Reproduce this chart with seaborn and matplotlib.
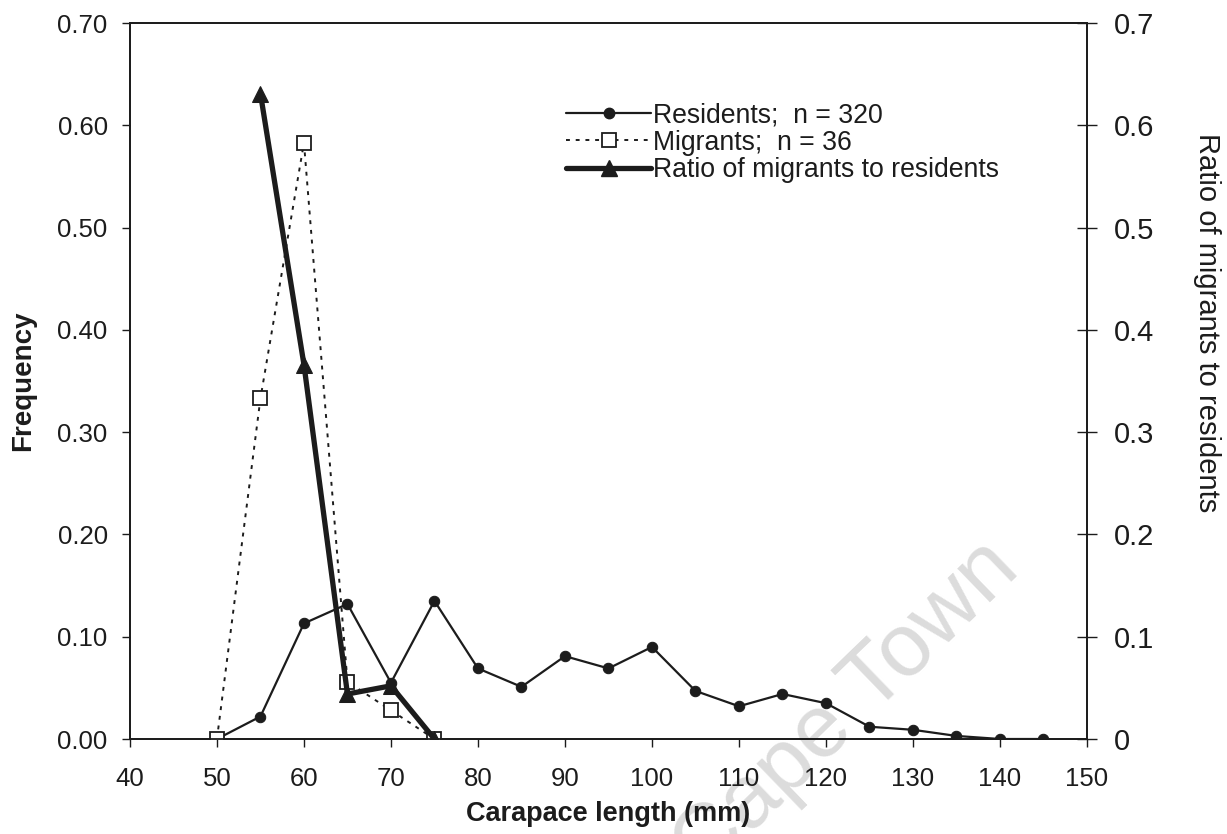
import matplotlib
matplotlib.use("Agg")
import matplotlib.pyplot as plt
import seaborn as sns
from matplotlib.lines import Line2D

# Carapace length classes (mm)
resident_lengths = [50, 55, 60, 65, 70, 75, 80, 85, 90, 95, 100,
                    105, 110, 115, 120, 125, 130, 135, 140, 145]
resident_freq = [0.000, 0.022, 0.113, 0.132, 0.055, 0.135, 0.069, 0.051, 0.081, 0.069, 0.090,
                 0.047, 0.032, 0.044, 0.035, 0.012, 0.009, 0.003, 0.000, 0.000]

migrant_lengths = [50, 55, 60, 65, 70, 75]
migrant_freq = [0.000, 0.333, 0.583, 0.056, 0.028, 0.000]

ratio_lengths = [55, 60, 65, 70, 75]
ratio_values = [0.631, 0.366, 0.044, 0.052, 0.000]

x_ticks = list(range(40, 151, 10))
left_ticks = [0.0, 0.1, 0.2, 0.3, 0.4, 0.5, 0.6, 0.7]
left_ticklabels = ["0.00", "0.10", "0.20", "0.30", "0.40", "0.50", "0.60", "0.70"]
right_ticklabels = ["0", "0.1", "0.2", "0.3", "0.4", "0.5", "0.6", "0.7"]

label_residents = "Residents;  n = 320"
label_migrants = "Migrants;  n = 36"
label_ratio = "Ratio of migrants to residents"

sns.set_style("white")
plt.rcParams["font.family"] = ["Liberation Sans", "DejaVu Sans"]

INK = "#1c1c1c"
fig = plt.figure(figsize=(12.27, 8.34), dpi=100)
ax = fig.add_axes([0.1059, 0.1139, 0.7800, 0.8585])
ax2 = ax.twinx()

# faint watermark behind the data
ax.text(1022 / 1227, 1 - 572 / 834, "University of Cape Town", transform=fig.transFigure,
        fontsize=64, color="#dcdcdc", rotation=44, rotation_mode="anchor",
        ha="right", va="baseline", zorder=0.5, clip_on=False)

sns.lineplot(x=resident_lengths, y=resident_freq, ax=ax, color=INK, linewidth=1.6,
             marker="o", markersize=7.5, markeredgecolor=INK, markerfacecolor=INK,
             zorder=3)
sns.lineplot(x=migrant_lengths, y=migrant_freq, ax=ax, color=INK, linewidth=1.4,
             linestyle=(0, (2, 3)), marker="s", markersize=10, markerfacecolor="white",
             markeredgecolor=INK, markeredgewidth=1.3, zorder=4)
sns.lineplot(x=ratio_lengths, y=ratio_values, ax=ax2, color=INK, linewidth=3.8,
             marker="^", markersize=11, markeredgecolor=INK, markerfacecolor=INK,
             zorder=5)

ax.set_xlim(40, 150)
ax.set_ylim(0, 0.7)
ax2.set_ylim(0, 0.7)
ax.set_xticks(x_ticks)
ax.set_xticklabels([str(v) for v in x_ticks])
ax.set_yticks(left_ticks)
ax.set_yticklabels(left_ticklabels)
ax2.set_yticks(left_ticks)
ax2.set_yticklabels(right_ticklabels)

for a in (ax, ax2):
    for s in a.spines.values():
        s.set_color(INK)
        s.set_linewidth(1.3)
        s.set_visible(True)

ax.tick_params(axis="x", direction="out", length=6, width=1.0, colors=INK,
               labelsize=18.5, pad=14, bottom=True)
ax.tick_params(axis="y", direction="out", length=6, width=1.0, colors=INK,
               labelsize=18.5, pad=10, left=True)
ax2.tick_params(axis="y", direction="inout", length=14, width=1.0, colors=INK,
                labelsize=21, pad=12, right=True)

ax.set_xlabel("Carapace length (mm)", fontsize=19.5, fontweight="bold", color=INK)
ax.xaxis.set_label_coords(0.5, -0.086)
ax.set_ylabel("Frequency", fontsize=20, fontweight="bold", color=INK)
ax.yaxis.label.set_horizontalalignment("center")
ax.yaxis.label.set_verticalalignment("center")
ax.yaxis.set_label_coords((23 - 130) / 957, 0.5)
ax2.set_ylabel(label_ratio, fontsize=21, color=INK, rotation=-90)
ax2.yaxis.label.set_horizontalalignment("center")
ax2.yaxis.label.set_verticalalignment("center")
ax2.yaxis.set_label_coords((1207 - 130) / 957, 0.582)

handles = [
    Line2D([], [], color=INK, linewidth=1.6, marker="o", markersize=7.5,
           markerfacecolor=INK, markeredgecolor=INK),
    Line2D([], [], color=INK, linewidth=1.4, linestyle=(0, (2, 3)), marker="s",
           markersize=10, markerfacecolor="white", markeredgecolor=INK, markeredgewidth=1.3),
    Line2D([], [], color=INK, linewidth=3.8, marker="^", markersize=11,
           markerfacecolor=INK, markeredgecolor=INK),
]
for a in (ax, ax2):
    lg = a.get_legend()
    if lg is not None:
        lg.remove()
ax2.legend(handles, [label_residents, label_migrants, label_ratio],
           loc="upper left", bbox_to_anchor=(566 / 1227, 1 - 102 / 834),
           bbox_transform=fig.transFigure, frameon=False, fontsize=19.2,
           handlelength=3.2, handletextpad=0.05, labelspacing=0.06,
           borderpad=0, borderaxespad=0, labelcolor=INK)

fig.savefig("out.png", dpi=100, facecolor="white")
